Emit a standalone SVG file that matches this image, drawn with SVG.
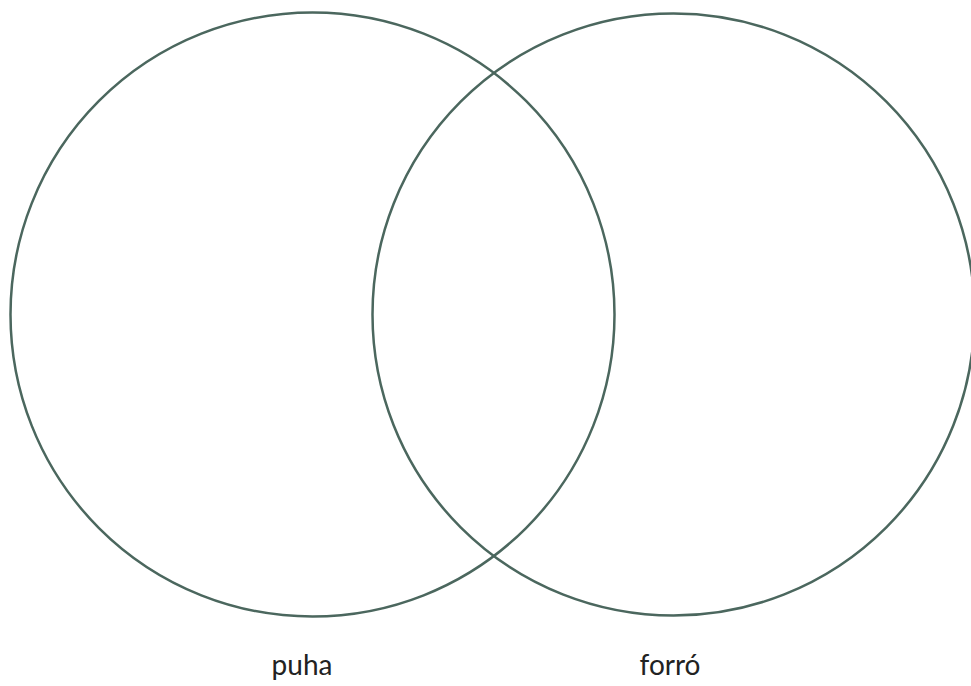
<svg xmlns="http://www.w3.org/2000/svg" width="971" height="686" viewBox="0 0 971 686">
<style>
.set{fill:none;stroke:#4b675e;stroke-width:2.5}
.lbl{font-family:Lato,"Open Sans",sans-serif;font-size:28px;fill:#222;text-anchor:middle}
</style>
<rect width="971" height="686" fill="#fff"/>
<g id="set-puha">
<circle class="set" cx="312.5" cy="314.5" r="302"/>
<text class="lbl" x="302" y="675">puha</text>
</g>
<g id="set-forro">
<circle class="set" cx="673.5" cy="314.5" r="301"/>
<text class="lbl" x="670" y="675">forró</text>
</g>
</svg>
